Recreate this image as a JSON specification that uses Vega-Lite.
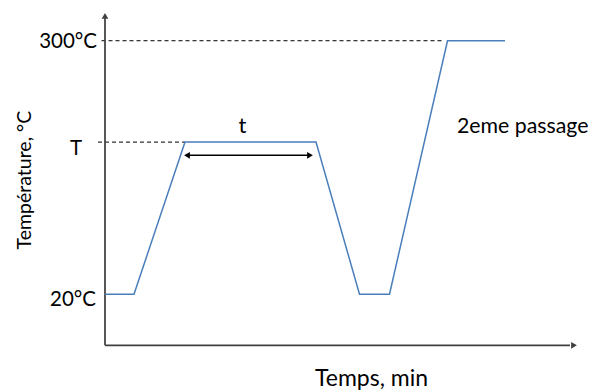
{
  "$schema": "https://vega.github.io/schema/vega-lite/v6.json",
  "width": 592,
  "height": 392,
  "padding": 0,
  "autosize": {"type": "fit", "contains": "padding"},
  "config": {"view": {"stroke": null}, "font": "Lato"},
  "datasets": {
    "profile": [
      {"t": 0, "temp": 20},
      {"t": 5.8, "temp": 20},
      {"t": 16, "temp": 188},
      {"t": 42.2, "temp": 188},
      {"t": 50.9, "temp": 20},
      {"t": 56.9, "temp": 20},
      {"t": 68.5, "temp": 300},
      {"t": 80, "temp": 300}
    ],
    "guides": [
      {"x1": -0.7, "x2": 67.6, "y": 300},
      {"x1": -1.4, "x2": 16, "y": 188}
    ],
    "axes": [
      {"x1": 0, "x2": 0, "y1": -36.5, "y2": 325},
      {"x1": 0, "x2": 93, "y1": -36.5, "y2": -36.5}
    ],
    "span": [
      {"x1": 16.2, "x2": 41.2, "y": 173.4}
    ],
    "heads": [
      {"x": 0, "y": 327.4, "shape": "triangle-up", "col": "#404040"},
      {"x": 93.8, "y": -36.5, "shape": "triangle-right", "col": "#404040"},
      {"x": 16.4, "y": 173.4, "shape": "triangle-left", "col": "#000000"},
      {"x": 41, "y": 173.4, "shape": "triangle-right", "col": "#000000"}
    ],
    "ticklabels": [
      {"x": -1.6, "y": 292, "label": "300°C"},
      {"x": -4.6, "y": 174.2, "label": "T"},
      {"x": -1.8, "y": 7, "label": "20°C"}
    ],
    "tnote": [{"x": 27.5, "y": 198.5, "label": "t"}],
    "pnote": [{"x": 70.4, "y": 198.1, "label": "2eme passage"}],
    "xtitle": [{"x": 53.3, "y": -81.5, "label": "Temps, min"}],
    "ytitle": [{"x": -16, "y": 146, "label": "Température, °C"}]
  },
  "layer": [
    {
      "data": {"name": "guides"},
      "mark": {"type": "rule", "color": "#000000", "strokeWidth": 1, "strokeDash": [4, 3]},
      "encoding": {
        "x": {"field": "x1", "type": "quantitative", "scale": {"domain": [-21, 97.4], "nice": false, "zero": false}, "axis": null},
        "x2": {"field": "x2"},
        "y": {"field": "y", "type": "quantitative", "scale": {"domain": [-87, 345], "nice": false, "zero": false}, "axis": null}
      }
    },
    {
      "data": {"name": "axes"},
      "mark": {"type": "rule", "color": "#404040", "strokeWidth": 1.75},
      "encoding": {
        "x": {"field": "x1", "type": "quantitative"},
        "x2": {"field": "x2"},
        "y": {"field": "y1", "type": "quantitative"},
        "y2": {"field": "y2"}
      }
    },
    {
      "data": {"name": "profile"},
      "mark": {"type": "line", "color": "#4a7ebb", "strokeWidth": 1.5},
      "encoding": {
        "x": {"field": "t", "type": "quantitative"},
        "y": {"field": "temp", "type": "quantitative"}
      }
    },
    {
      "data": {"name": "span"},
      "mark": {"type": "rule", "color": "#000000", "strokeWidth": 1.5},
      "encoding": {
        "x": {"field": "x1", "type": "quantitative"},
        "x2": {"field": "x2"},
        "y": {"field": "y", "type": "quantitative"}
      }
    },
    {
      "data": {"name": "heads"},
      "mark": {"type": "point", "filled": true, "size": 45, "opacity": 1},
      "encoding": {
        "x": {"field": "x", "type": "quantitative"},
        "y": {"field": "y", "type": "quantitative"},
        "shape": {"field": "shape", "type": "nominal", "scale": null},
        "color": {"field": "col", "type": "nominal", "scale": null}
      }
    },
    {
      "data": {"name": "ticklabels"},
      "mark": {"type": "text", "align": "right", "baseline": "alphabetic", "fontSize": 20.5, "color": "#000000"},
      "encoding": {
        "x": {"field": "x", "type": "quantitative"},
        "y": {"field": "y", "type": "quantitative"},
        "text": {"field": "label"}
      }
    },
    {
      "data": {"name": "tnote"},
      "mark": {"type": "text", "align": "center", "baseline": "alphabetic", "fontSize": 22, "color": "#000000"},
      "encoding": {
        "x": {"field": "x", "type": "quantitative"},
        "y": {"field": "y", "type": "quantitative"},
        "text": {"field": "label"}
      }
    },
    {
      "data": {"name": "pnote"},
      "mark": {"type": "text", "align": "left", "baseline": "alphabetic", "fontSize": 21.3, "color": "#000000"},
      "encoding": {
        "x": {"field": "x", "type": "quantitative"},
        "y": {"field": "y", "type": "quantitative"},
        "text": {"field": "label"}
      }
    },
    {
      "data": {"name": "xtitle"},
      "mark": {"type": "text", "align": "center", "baseline": "alphabetic", "fontSize": 23, "color": "#000000"},
      "encoding": {
        "x": {"field": "x", "type": "quantitative"},
        "y": {"field": "y", "type": "quantitative"},
        "text": {"field": "label"}
      }
    },
    {
      "data": {"name": "ytitle"},
      "mark": {"type": "text", "align": "center", "baseline": "middle", "angle": 270, "fontSize": 19.5, "color": "#000000"},
      "encoding": {
        "x": {"field": "x", "type": "quantitative"},
        "y": {"field": "y", "type": "quantitative"},
        "text": {"field": "label"}
      }
    }
  ]
}
